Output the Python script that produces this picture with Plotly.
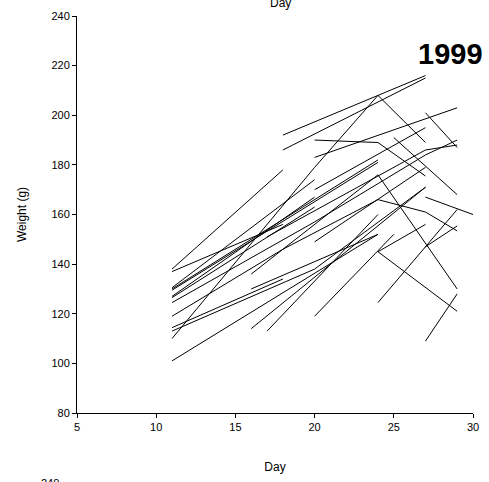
import plotly.graph_objects as go

# Each animal: days measured and weights (g)
animal_days = [
    [11, 18], [11, 18], [11, 20], [11, 24], [11, 24], [11, 20], [11, 20],
    [11, 20], [11, 18], [11, 18], [11, 20, 27], [11, 20, 24, 27], [11, 24],
    [18, 27], [18, 27], [20, 24, 29], [20, 24, 27], [27, 29], [20, 27, 29],
    [16, 24, 29], [17, 24], [16, 27], [20, 25], [24, 27], [24, 29], [24, 29],
    [27, 29], [24, 27, 29], [27, 30], [27, 29], [25, 29], [17, 27, 29],
    [20, 27], [20, 27], [16, 24], [18, 24],
]
animal_weights = [
    [138, 178], [137, 156], [130.5, 174], [130, 182], [129.5, 181], [127, 167], [126.5, 163],
    [124.5, 157], [119, 146], [114.4, 134], [113, 138, 171], [110, 179, 208, 189], [101, 152],
    [192, 216], [186, 215], [183, 192, 203], [190, 189, 175.5], [201, 187], [157, 184, 190],
    [136, 176, 130], [113, 160], [114, 171], [119, 152], [145, 156], [145, 121], [124.5, 162],
    [109, 128], [166, 161, 153.4], [167, 160], [147, 155.4], [191, 168], [151, 186, 188],
    [170, 195], [149, 179], [130, 152], [146, 166],
]

x_ticks = [5, 10, 15, 20, 25, 30]
y_ticks = [80, 100, 120, 140, 160, 180, 200, 220, 240]

fig = go.Figure()
for d, w in zip(animal_days, animal_weights):
    fig.add_trace(go.Scatter(x=d, y=w, mode="lines",
                             line=dict(color="black", width=1),
                             showlegend=False, hoverinfo="skip"))

font = "Liberation Sans, Arial, sans-serif"
fig.update_layout(
    width=489, height=482,
    margin=dict(l=77, r=10, t=12, b=68),
    paper_bgcolor="white", plot_bgcolor="white",
    font=dict(family=font, size=11, color="black"),
    xaxis=dict(range=[5, 30], tickvals=x_ticks, showgrid=False, zeroline=False,
               showline=True, linecolor="black", linewidth=1,
               ticks="outside", ticklen=4, tickcolor="black",
               tickfont=dict(color="black"),
               title=dict(text="Day", font=dict(size=12), standoff=30)),
    yaxis=dict(range=[80, 240], tickvals=y_ticks, showgrid=False, zeroline=False,
               showline=True, linecolor="black", linewidth=1,
               ticks="outside", ticklen=4, tickcolor="black",
               title=dict(text="Weight (g)", font=dict(size=12), standoff=22)),
)
fig.add_annotation(text="<b>1999</b>", xref="paper", yref="paper",
                   x=1.03, y=0.905, xanchor="right", yanchor="middle",
                   showarrow=False, font=dict(size=29, family=font))
# fragments of neighbouring panels
fig.add_annotation(text="Day", xref="paper", yref="paper", x=0.515, y=1.0,
                   yshift=13, xanchor="center", yanchor="middle",
                   showarrow=False, font=dict(size=12, family=font))
fig.add_annotation(text="240", xref="paper", yref="paper", x=-0.04, y=0.0,
                   yshift=-70, xanchor="right", yanchor="middle",
                   showarrow=False, font=dict(size=11, family=font))
fig.write_html("out.html")
